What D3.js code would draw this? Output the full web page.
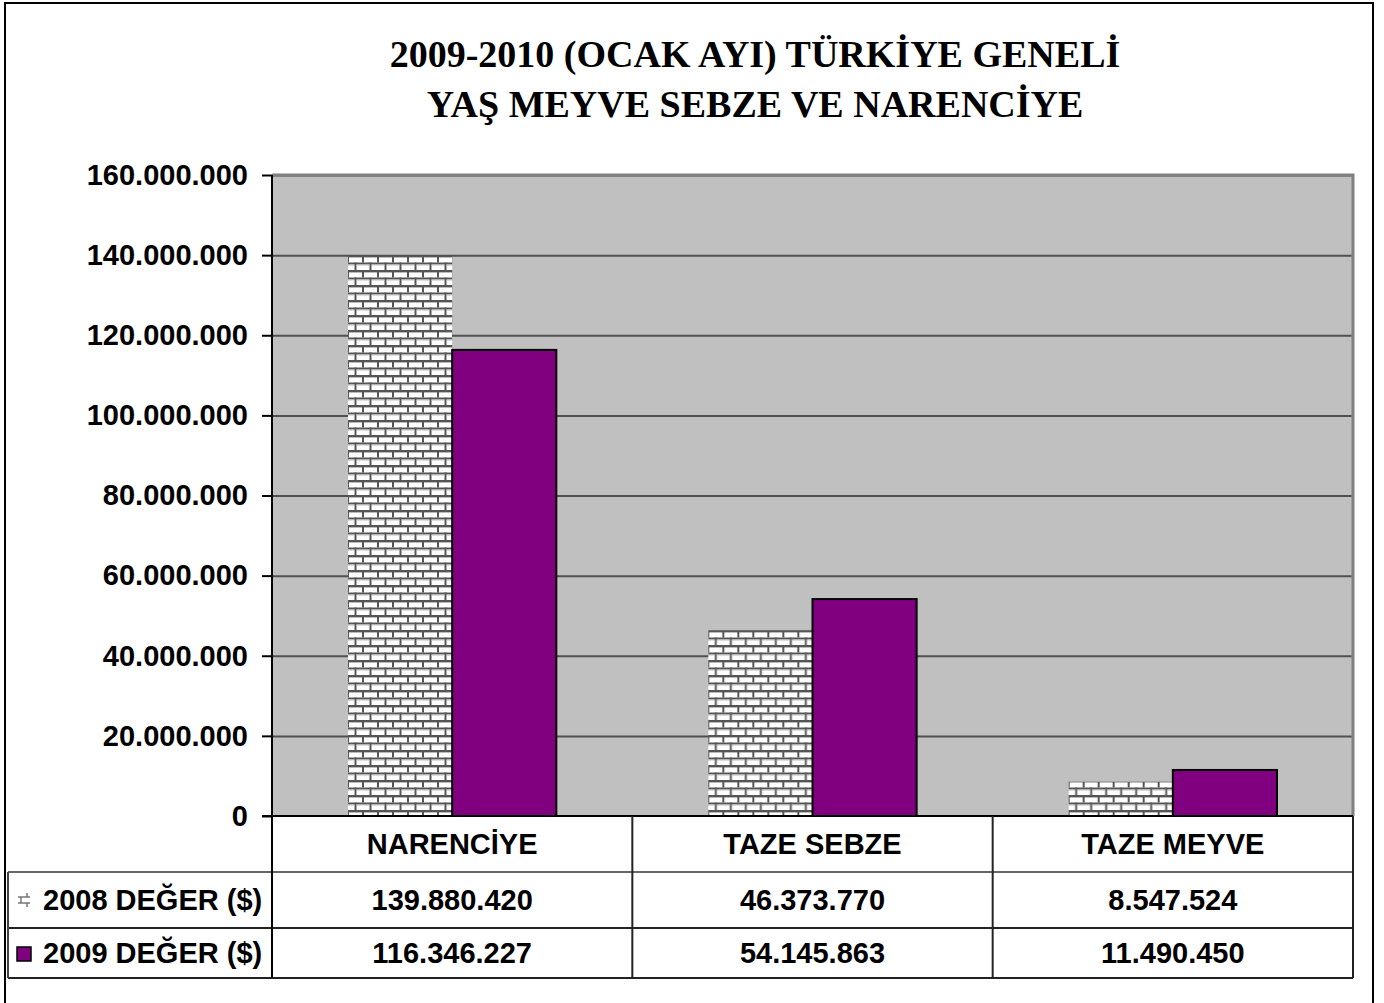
<!DOCTYPE html>
<html>
<head>
<meta charset="utf-8">
<script src="https://cdn.jsdelivr.net/npm/d3@7"></script>
<style>
  body { margin: 0; background: #fff; }
  svg text { font-family: "Liberation Sans", Arial, sans-serif; font-weight: bold; fill: #000; }
  .title { font-family: "Liberation Serif", "Times New Roman", serif; font-size: 38px; }
</style>
</head>
<body>
<div id="chart"></div>
<script>
// chart data
const categories = ["NARENCİYE", "TAZE SEBZE", "TAZE MEYVE"];
const seriesNames = ["2008 DEĞER ($)", "2009 DEĞER ($)"];
const values2008 = [139880420, 46373770, 8547524];
const values2009 = [116346227, 54145863, 11490450];
const yTicks = [0, 20000000, 40000000, 60000000, 80000000, 100000000, 120000000, 140000000, 160000000];
const titleLines = ["2009-2010 (OCAK AYI) TÜRKİYE GENELİ", "YAŞ MEYVE SEBZE VE NARENCİYE"];

const W = 1384, H = 1003;
const plot = { left: 272, right: 1353, top: 175, bottom: 816 };
const rowH = [56, 56, 50]; // header row, 2008 row, 2009 row
const tableLeft = 8;
const fontSize = 29;

const fmt = d3.formatLocale({ decimal: ",", thousands: ".", grouping: [3], currency: ["", "$"] }).format(",d");

const svg = d3.select("#chart").append("svg")
    .attr("width", W)
    .attr("height", H);

const defs = svg.append("defs");
const brick = defs.append("pattern")
    .attr("id", "brick")
    .attr("patternUnits", "userSpaceOnUse")
    .attr("width", 15)
    .attr("height", 15);
brick.append("rect").attr("width", 15).attr("height", 15).attr("fill", "#fff");
brick.append("rect").attr("x", 0).attr("y", 0).attr("width", 15).attr("height", 2).attr("fill", "#555");
brick.append("rect").attr("x", 0).attr("y", 7.5).attr("width", 15).attr("height", 2).attr("fill", "#555");
brick.append("rect").attr("x", 0).attr("y", 0).attr("width", 2).attr("height", 7.5).attr("fill", "#555");
brick.append("rect").attr("x", 7.5).attr("y", 7.5).attr("width", 2).attr("height", 7.5).attr("fill", "#555");
brick.append("rect").attr("x", 2).attr("y", 2).attr("width", 13).attr("height", 1).attr("fill", "#bbb");
brick.append("rect").attr("x", 0).attr("y", 9.5).attr("width", 7.5).attr("height", 1).attr("fill", "#bbb");
brick.append("rect").attr("x", 9.5).attr("y", 9.5).attr("width", 5.5).attr("height", 1).attr("fill", "#bbb");

const seriesFill = ["url(#brick)", "#800080"];
const seriesValues = [values2008, values2009];

// outer frame
svg.append("rect")
    .attr("x", 5).attr("y", 3)
    .attr("width", 1368).attr("height", 1010)
    .attr("fill", "none")
    .attr("stroke", "#000")
    .attr("stroke-width", 2);

// title
svg.selectAll(".title")
    .data(titleLines)
    .join("text")
    .attr("class", "title")
    .attr("x", 755)
    .attr("y", (d, i) => 67 + i * 50)
    .attr("text-anchor", "middle")
    .text(d => d);

// scales
const x0 = d3.scaleBand()
    .domain(categories)
    .range([plot.left, plot.right])
    .padding(0);

const x1 = d3.scaleBand()
    .domain(seriesNames)
    .range([0, x0.bandwidth()])
    .paddingInner(0)
    .paddingOuter(0.73);

const y = d3.scaleLinear()
    .domain([0, 160000000])
    .range([plot.bottom, plot.top]);

// plot background
svg.append("rect")
    .attr("x", plot.left).attr("y", plot.top)
    .attr("width", plot.right - plot.left)
    .attr("height", plot.bottom - plot.top)
    .attr("fill", "#c0c0c0");

// gridlines
svg.append("g")
    .attr("transform", `translate(${plot.left},0)`)
    .call(d3.axisLeft(y).tickValues(yTicks.slice(1)).tickSize(-(plot.right - plot.left)).tickFormat(""))
    .call(g => g.select(".domain").remove())
    .call(g => g.selectAll("line").attr("stroke", "#505050").attr("stroke-width", 2));

// plot top/right border
svg.append("path")
    .attr("d", `M${plot.left},${plot.top} H${plot.right} V${plot.bottom}`)
    .attr("fill", "none")
    .attr("stroke", "#808080")
    .attr("stroke-width", 3);

// bars
const groups = svg.append("g")
    .selectAll("g")
    .data(categories)
    .join("g")
    .attr("transform", d => `translate(${x0(d)},0)`);

groups.selectAll("rect")
    .data((c, ci) => seriesNames.map((s, si) => ({ series: s, si: si, value: seriesValues[si][ci] })))
    .join("rect")
    .attr("x", d => x1(d.series))
    .attr("y", d => y(d.value))
    .attr("width", x1.bandwidth())
    .attr("height", d => y(0) - y(d.value))
    .attr("fill", d => seriesFill[d.si])
    .attr("stroke", d => d.si === 1 ? "#000" : "none")
    .attr("stroke-width", 2);

// y axis
svg.append("g")
    .attr("transform", `translate(${plot.left},0)`)
    .call(d3.axisLeft(y).tickValues(yTicks).tickSize(10).tickPadding(14).tickFormat(fmt))
    .call(g => g.select(".domain").remove())
    .call(g => g.selectAll("line").attr("stroke", "#000").attr("stroke-width", 2))
    .call(g => g.selectAll("text").attr("font-size", fontSize).attr("font-family", null));

// table
const tTop = plot.bottom;
const rowY = [tTop, tTop + rowH[0], tTop + rowH[0] + rowH[1], tTop + rowH[0] + rowH[1] + rowH[2]];
const table = svg.append("g");

// horizontal lines
table.append("line")
    .attr("x1", plot.left - 10).attr("x2", plot.right)
    .attr("y1", rowY[0]).attr("y2", rowY[0])
    .attr("stroke", "#000").attr("stroke-width", 2);
[1, 2, 3].forEach(i => {
    table.append("line")
        .attr("x1", tableLeft).attr("x2", plot.right)
        .attr("y1", rowY[i]).attr("y2", rowY[i])
        .attr("stroke", i === 1 ? "#666" : "#222").attr("stroke-width", 2);
});
// vertical lines
table.append("line")
    .attr("x1", tableLeft).attr("x2", tableLeft)
    .attr("y1", rowY[1]).attr("y2", rowY[3])
    .attr("stroke", "#444").attr("stroke-width", 2);
table.append("line")
    .attr("x1", plot.left).attr("x2", plot.left)
    .attr("y1", plot.top).attr("y2", rowY[3])
    .attr("stroke", "#000").attr("stroke-width", 2);
categories.forEach(c => {
    table.append("line")
        .attr("x1", x0(c) + x0.bandwidth()).attr("x2", x0(c) + x0.bandwidth())
        .attr("y1", rowY[0]).attr("y2", rowY[3])
        .attr("stroke", "#222").attr("stroke-width", 2);
});

// category header
table.selectAll(".cat")
    .data(categories)
    .join("text")
    .attr("class", "cat")
    .attr("x", d => x0(d) + x0.bandwidth() / 2)
    .attr("y", (rowY[0] + rowY[1]) / 2)
    .attr("dy", "0.36em")
    .attr("text-anchor", "middle")
    .attr("font-size", fontSize)
    .text(d => d);

// value rows
seriesNames.forEach((s, si) => {
    const cy = (rowY[si + 1] + rowY[si + 2]) / 2;
    table.selectAll(".val" + si)
        .data(categories)
        .join("text")
        .attr("class", "val" + si)
        .attr("x", d => x0(d) + x0.bandwidth() / 2)
        .attr("y", cy)
        .attr("dy", "0.36em")
        .attr("text-anchor", "middle")
        .attr("font-size", fontSize)
        .text((d, ci) => fmt(seriesValues[si][ci]));

    table.append("text")
        .attr("x", 43)
        .attr("y", cy)
        .attr("dy", "0.36em")
        .attr("font-size", fontSize)
        .text(s);
});

// legend keys
const k1y = (rowY[1] + rowY[2]) / 2;
const key1 = table.append("g").attr("transform", `translate(18,${k1y})`).attr("stroke", "#777").attr("stroke-width", 1.5);
key1.append("line").attr("x1", 0).attr("x2", 12).attr("y1", -3).attr("y2", -3);
key1.append("line").attr("x1", 0).attr("x2", 12).attr("y1", 3).attr("y2", 3);
key1.append("line").attr("x1", 3).attr("x2", 3).attr("y1", -3).attr("y2", 3);
key1.append("line").attr("x1", 9).attr("x2", 9).attr("y1", -7).attr("y2", -3);
key1.append("line").attr("x1", 9).attr("x2", 9).attr("y1", 3).attr("y2", 7);

const k2y = (rowY[2] + rowY[3]) / 2;
table.append("rect")
    .attr("x", 17).attr("y", k2y - 6)
    .attr("width", 14).attr("height", 14)
    .attr("fill", "#800080")
    .attr("stroke", "#000")
    .attr("stroke-width", 1.5);
</script>
</body>
</html>
